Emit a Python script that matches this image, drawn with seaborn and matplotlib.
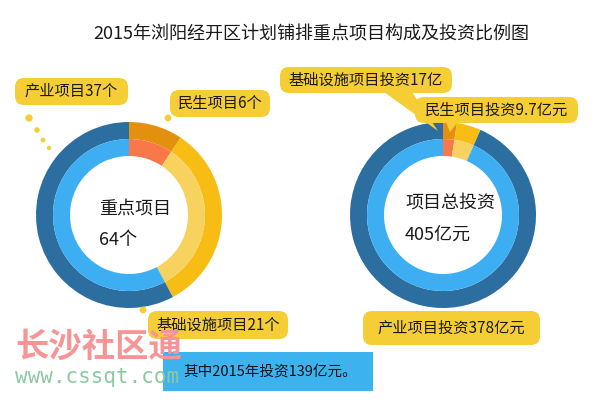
import matplotlib.pyplot as plt
import seaborn as sns
from matplotlib.patches import FancyBboxPatch

# data
title = "2015年浏阳经开区计划铺排重点项目构成及投资比例图"

proj_labels = ["民生项目", "基础设施项目", "产业项目"]
proj_counts = [6, 21, 37]
proj_center = ["重点项目", "64个"]

inv_labels = ["民生项目投资", "基础设施项目投资", "产业项目投资"]
inv_values = [9.7, 17, 378]
inv_units = ["亿元", "亿", "亿元"]
inv_center = ["项目总投资", "405亿元"]

note = "其中2015年投资139亿元。"

outer_colors = ["#E3900E", "#F8BD15", "#2B6E9F"]
inner_colors = ["#F8784A", "#F7D25E", "#3DAEF2"]
tag_yellow = "#F5CE36"

sns.set_theme(style="white")
plt.rcParams['font.family'] = ['Noto Sans CJK SC', 'DejaVu Sans']

fig = plt.figure(figsize=(6, 4), dpi=100)
ax = fig.add_axes([0, 0, 1, 1])


def H(y):
    # pixel row (from top) -> data y
    return 400 - y


def donut(vals, cx, cy):
    ax.pie(vals, center=(cx, H(cy)), radius=93, startangle=90, counterclock=False,
           colors=outer_colors, wedgeprops=dict(width=17, linewidth=0))
    ax.pie(vals, center=(cx, H(cy)), radius=76, startangle=90, counterclock=False,
           colors=inner_colors, wedgeprops=dict(width=17, linewidth=0))


def tag(x0, y0, x1, y1, text, fc=tag_yellow, size=11, ha="center", tx=None):
    ax.add_patch(FancyBboxPatch((x0, H(y1)), x1 - x0, y1 - y0,
                                boxstyle="round,pad=0,rounding_size=9",
                                fc=fc, ec="none", zorder=3))
    if tx is None:
        tx = (x0 + x1) / 2
    ax.text(tx, H((y0 + y1) / 2), text, ha=ha, va="center",
            fontsize=size, color="#1a1a1a", zorder=4)


donut(proj_counts, 129, 215)
donut(inv_values, 443, 215)

# centre texts
ax.text(99, H(209), proj_center[0], fontsize=13, color="#1a1a1a", va="center")
ax.text(99, H(240), proj_center[1], fontsize=13, color="#1a1a1a", va="center")
ax.text(405, H(203), inv_center[0], fontsize=13, color="#1a1a1a", va="center")
ax.text(405, H(235), inv_center[1], fontsize=13, color="#1a1a1a", va="center")

# left tags + dots
tag(15, 78, 128, 105, f"{proj_labels[2]}{proj_counts[2]}个")
tag(170, 90, 270, 117, f"{proj_labels[0]}{proj_counts[0]}个")
tag(148, 311, 288, 339, f"{proj_labels[1]}{proj_counts[1]}个")
ax.scatter([29, 37, 43, 49, 168, 143], [H(118), H(130), H(140), H(148), H(118), H(310)],
           s=[28, 16, 12, 10, 24, 24], color=tag_yellow, linewidths=0, zorder=3)

# right tags with pointers
ax.fill([384, 412, 438], [H(92), H(92), H(131)], color=tag_yellow, lw=0, zorder=2)
ax.fill([446, 458, 450], [H(122), H(122), H(132)], color=tag_yellow, lw=0, zorder=2)
tag(280, 67, 452, 93, f"{inv_labels[1]}{inv_values[1]:g}{inv_units[1]}")
tag(415, 97, 578, 123, f"{inv_labels[0]}{inv_values[0]:g}{inv_units[0]}")
tag(363, 311, 540, 345, f"{inv_labels[2]}{inv_values[2]:g}{inv_units[2]}")

# note box
ax.add_patch(FancyBboxPatch((163, H(391)), 210, 39, boxstyle="square,pad=0",
                            fc="#3CB3EF", ec="none", zorder=3))
ax.text(183, H(372), note, fontsize=10.5, color="#111111", va="center", zorder=4)

# title
ax.text(311, H(35), title, ha="center", va="center", fontsize=13, color="#1a1a1a")

# watermark
ax.text(15, H(347), "长沙社区通", fontsize=24, fontweight="bold", color="#F59595",
        va="center", zorder=6)
ax.text(15, H(377), "www.cssqt.com", fontsize=15, family="DejaVu Sans Mono",
        color="#8CC9A2", va="center", zorder=6)

ax.set_xlim(0, 600)
ax.set_ylim(0, 400)
ax.set_aspect("equal")
ax.axis("off")

fig.savefig("out.png", dpi=100, facecolor="white")
